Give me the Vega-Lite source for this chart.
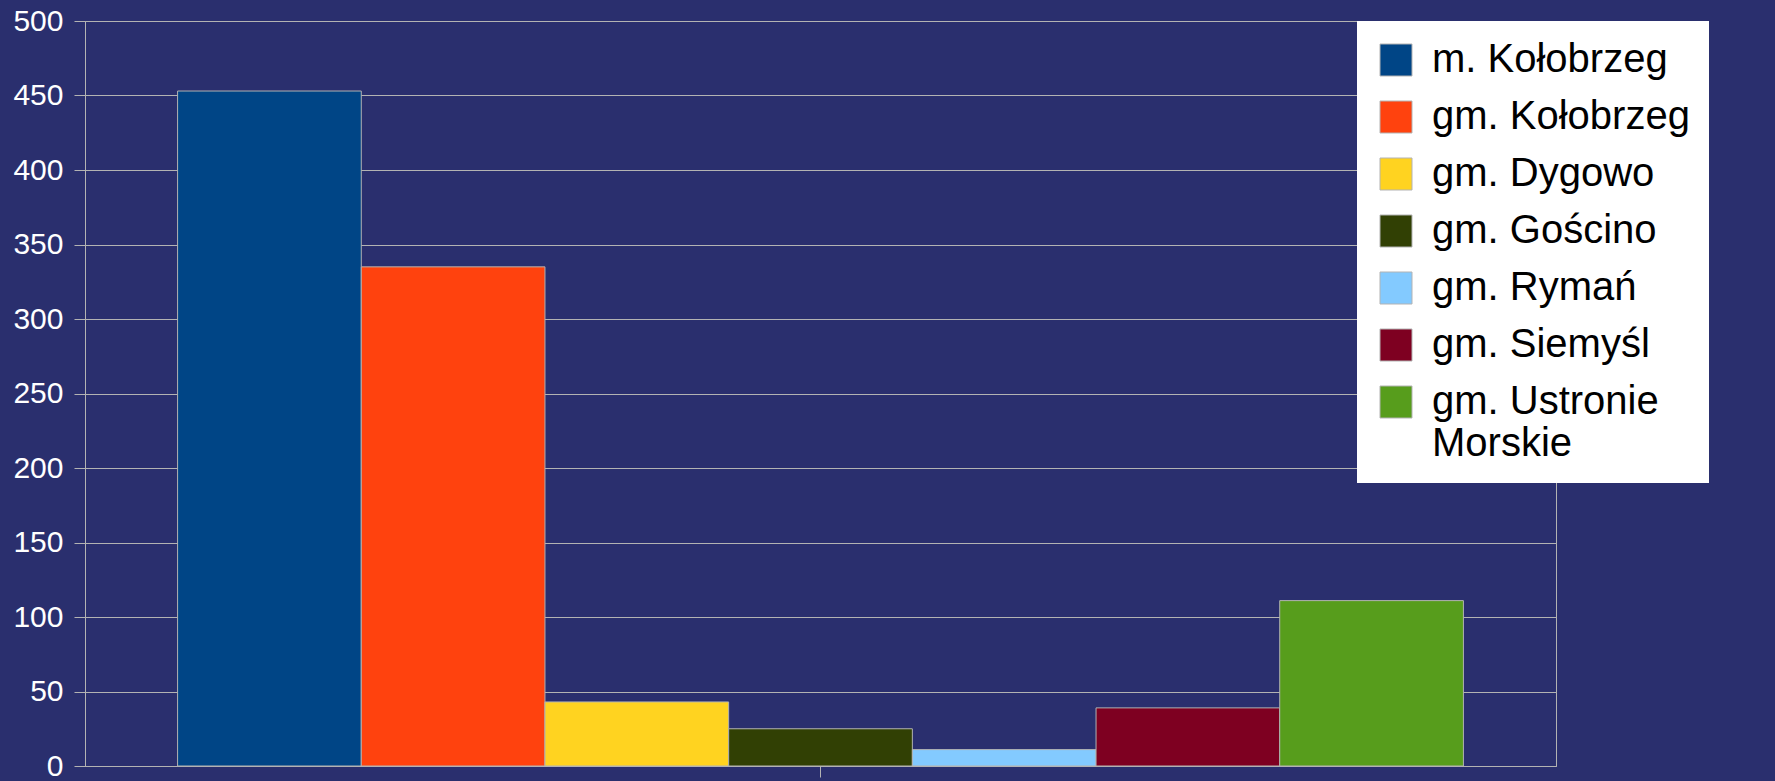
{
  "$schema": "https://vega.github.io/schema/vega-lite/v6.json",
  "width": 1471,
  "height": 745,
  "autosize": {"type": "none"},
  "padding": {"left": 85, "top": 21, "right": 219, "bottom": 15},
  "background": "#2a2f6e",
  "config": {
    "view": {"stroke": "#b3b3b3", "strokeWidth": 1},
    "font": "Liberation Sans"
  },
  "data": {
    "values": [
      {"region": "m. Kołobrzeg", "value": 453},
      {"region": "gm. Kołobrzeg", "value": 335},
      {"region": "gm. Dygowo", "value": 43},
      {"region": "gm. Gościno", "value": 25},
      {"region": "gm. Rymań", "value": 11},
      {"region": "gm. Siemyśl", "value": 39},
      {"region": "gm. Ustronie Morskie", "value": 111}
    ]
  },
  "mark": {"type": "bar", "stroke": "#b3b3b3", "strokeWidth": 1},
  "encoding": {
    "x": {
      "datum": "all",
      "type": "nominal",
      "scale": {"paddingInner": 0, "paddingOuter": 0.072},
      "axis": {
        "labels": false,
        "title": null,
        "ticks": true,
        "tickSize": 11,
        "tickColor": "#b3b3b3",
        "domainColor": "#b3b3b3",
        "grid": false
      }
    },
    "xOffset": {
      "field": "region",
      "type": "nominal",
      "sort": null,
      "scale": {"paddingInner": 0, "paddingOuter": 0}
    },
    "y": {
      "field": "value",
      "type": "quantitative",
      "scale": {"domain": [0, 500], "nice": false},
      "axis": {
        "values": [0, 50, 100, 150, 200, 250, 300, 350, 400, 450, 500],
        "title": null,
        "labelColor": "#ffffff",
        "labelFontSize": 30,
        "labelFont": "Liberation Sans",
        "labelPadding": 11,
        "tickSize": 11,
        "tickColor": "#b3b3b3",
        "domainColor": "#b3b3b3",
        "gridColor": "#b3b3b3",
        "gridOpacity": 1,
        "grid": true
      }
    },
    "color": {
      "field": "region",
      "type": "nominal",
      "sort": null,
      "scale": {
        "domain": ["m. Kołobrzeg", "gm. Kołobrzeg", "gm. Dygowo", "gm. Gościno", "gm. Rymań", "gm. Siemyśl", "gm. Ustronie Morskie"],
        "range": ["#004586", "#ff420e", "#ffd320", "#314004", "#83caff", "#7e0021", "#579d1c"]
      },
      "legend": {
        "title": null,
        "orient": "none",
        "legendX": 1272,
        "legendY": 0,
        "fillColor": "#ffffff",
        "padding": 19,
        "symbolType": "square",
        "symbolSize": 1024,
        "symbolStrokeColor": "#b3b3b3",
        "symbolStrokeWidth": 1,
        "symbolOpacity": 1,
        "labelFont": "Liberation Sans",
        "labelFontSize": 40,
        "labelColor": "#000000",
        "labelOffset": 16,
        "labelLimit": 600,
        "rowPadding": 17,
        "labelExpr": "datum.label == 'gm. Ustronie Morskie' ? ['gm. Ustronie', 'Morskie'] : datum.label"
      }
    }
  }
}
